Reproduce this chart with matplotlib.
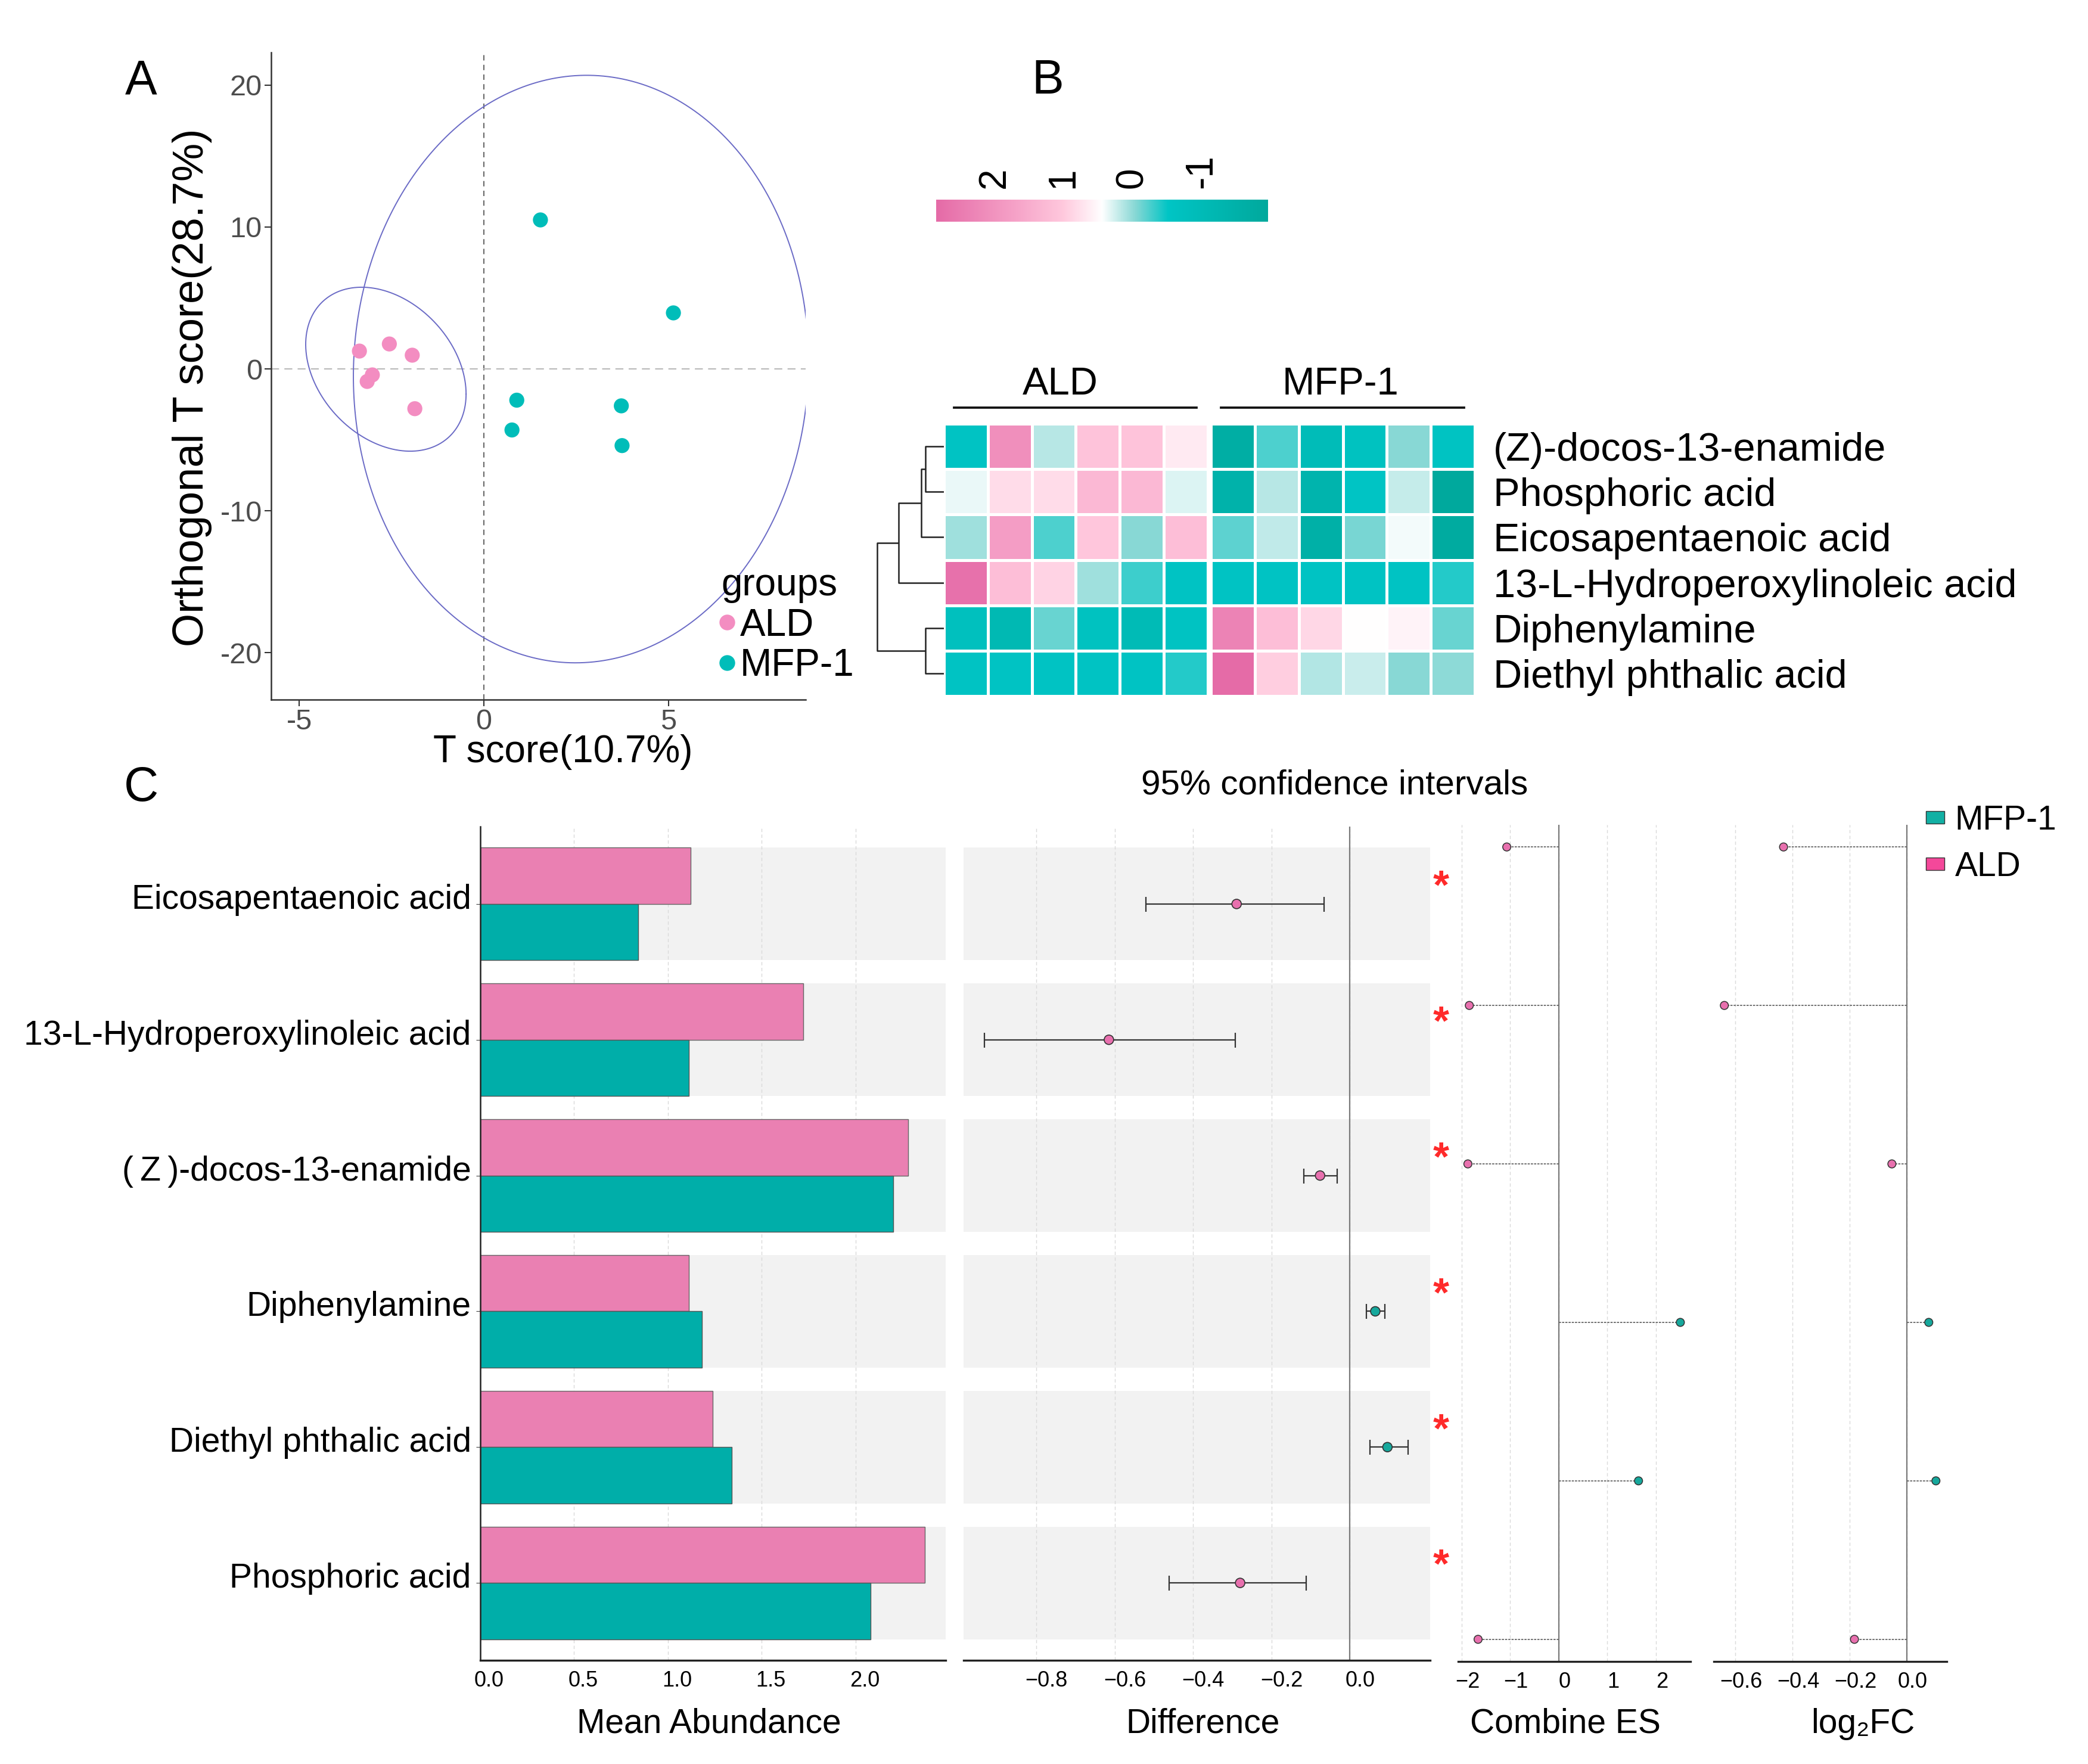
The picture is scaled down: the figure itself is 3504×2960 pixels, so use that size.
import numpy as np
import matplotlib
matplotlib.use("Agg")
import matplotlib.pyplot as plt
from matplotlib.colors import LinearSegmentedColormap, Normalize
from matplotlib.patches import Patch
from matplotlib.lines import Line2D
from matplotlib.transforms import ScaledTranslation

plt.rcParams['font.family'] = ['Liberation Sans', 'DejaVu Sans', 'Noto Sans CJK SC']
plt.rcParams['axes.unicode_minus'] = False

# ---- data ----
# A: OPLS-DA scores
ald_t = [-3.37, -2.56, -1.94, -3.02, -3.16, -1.87]
ald_o = [1.26, 1.76, 0.97, -0.42, -0.88, -2.8]
mfp_t = [1.53, 5.13, 0.89, 0.76, 3.72, 3.74]
mfp_o = [10.5, 3.95, -2.2, -4.3, -2.6, -5.4]
F95 = 5.786  # qf(0.95, 2, 5), used for the 95% ellipse

# B: heatmap (z-scores)
heat_rows = ["(Z)-docos-13-enamide", "Phosphoric acid", "Eicosapentaenoic acid",
             "13-L-Hydroperoxylinoleic acid", "Diphenylamine", "Diethyl phthalic acid"]
heat_ald = [[-0.6, 2.1, 0.15, 1.1, 1.1, 0.65],
            [0.35, 0.8, 0.8, 1.3, 1.3, 0.3],
            [0.05, 1.8, -0.25, 1.05, -0.05, 1.2],
            [2.7, 1.2, 0.9, 0.05, -0.3, -0.6],
            [-0.75, -1.15, -0.15, -0.7, -1.05, -0.65],
            [-0.6, -0.6, -0.6, -0.6, -0.6, -0.4]]
heat_mfp = [[-1.7, -0.25, -1.0, -0.7, -0.05, -0.65],
            [-1.5, 0.15, -1.4, -0.55, 0.2, -1.97],
            [-0.2, 0.18, -1.6, -0.1, 0.38, -1.85],
            [-0.6, -0.6, -0.6, -0.6, -0.6, -0.4],
            [2.35, 1.2, 0.85, 0.45, 0.55, -0.15],
            [2.84, 0.95, 0.13, 0.22, -0.05, -0.03]]
# (left child, right child, height); leaves 0-5, new nodes from 6
dendro_merges = [(0, 1, 0.28), (6, 2, 0.34), (7, 3, 0.68), (4, 5, 0.28), (8, 9, 1.0)]
cbar_ticks = [2, 1, 0, -1]

# C: differential metabolites
metab = ["Eicosapentaenoic acid", "13-L-Hydroperoxylinoleic acid", "(\u2009Z\u2009)-docos-13-enamide",
         "Diphenylamine", "Diethyl phthalic acid", "Phosphoric acid"]
mean_ald = [1.12, 1.72, 2.28, 1.11, 1.24, 2.37]
mean_mfp = [0.84, 1.11, 2.20, 1.18, 1.34, 2.08]
diff = [-0.289, -0.615, -0.076, 0.065, 0.096, -0.28]
ci_lo = [-0.52, -0.933, -0.117, 0.043, 0.052, -0.461]
ci_hi = [-0.065, -0.292, -0.032, 0.09, 0.149, -0.111]
comb_es = [-1.07, -1.84, -1.87, 2.50, 1.64, -1.66]
log2fc = [-0.431, -0.638, -0.052, 0.077, 0.102, -0.183]

PINK = '#EA80B2'
TEAL = '#00AEA9'
PT_PINK = '#E870AE'
PT_TEAL = '#16A89C'

W, H = 3505, 2960
fig = plt.figure(figsize=(W / 100, H / 100), dpi=100)


def add_ax(l, t, r, b):
    return fig.add_axes([l / W, 1 - b / H, (r - l) / W, (b - t) / H])


def ftext(x, y, s, **kw):
    fig.text(x / W, 1 - y / H, s, **kw)


def shift_labels(labels, dx=0, dy=0):
    off = ScaledTranslation(dx / 100, dy / 100, fig.dpi_scale_trans)
    for lab in labels:
        lab.set_transform(lab.get_transform() + off)


def ellipse(ax, x, y, color):
    pts = np.column_stack([x, y])
    c = pts.mean(axis=0)
    L = np.linalg.cholesky(np.cov(pts.T))
    t = np.linspace(0, 2 * np.pi, 300)
    circ = np.column_stack([np.cos(t), np.sin(t)])
    e = np.sqrt(2 * F95) * circ @ L.T
    ax.plot(c[0] + e[:, 0], c[1] + e[:, 1], color=color, lw=1.4, zorder=2)


# ---------------- A ----------------
ax = add_ax(455, 88, 1352, 1174)
ax.axvline(0, ls=(0, (5, 4)), color='#555555', lw=1.3, zorder=1)
ax.axhline(0, ls=(0, (6, 4)), color='#BBBBBB', lw=1.6, zorder=1)
ellipse(ax, ald_t, ald_o, '#6B6BC6')
ellipse(ax, mfp_t, mfp_o, '#6B6BC6')
ax.scatter(ald_t, ald_o, s=330, c='#F38DC1', edgecolors='none', zorder=3)
ax.scatter(mfp_t, mfp_o, s=330, c='#00BDB9', edgecolors='none', zorder=3)
ax.set_xlim(-5.76, 8.71)
ax.set_ylim(-23.3, 22.3)
ax.set_xticks([-5, 0, 5])
ax.set_yticks([-20, -10, 0, 10, 20])
for s in ['top', 'right']:
    ax.spines[s].set_visible(False)
for s in ['left', 'bottom']:
    ax.spines[s].set_color('#333333')
    ax.spines[s].set_linewidth(1.8)
ax.tick_params(labelsize=35, labelcolor='#4D4D4D', color='#333333', length=8, width=1.5, pad=3)
ax.set_facecolor('none')
handles = [Line2D([], [], ls='none', marker='o', ms=19, mfc='#F38DC1', mec='none'),
           Line2D([], [], ls='none', marker='o', ms=19, mfc='#00BDB9', mec='none')]
ax.legend(handles, ['ALD', 'MFP-1'], title='groups', loc='upper left',
          bbox_to_anchor=(1210 / W, 1 - 952 / H), bbox_transform=fig.transFigure,
          frameon=False, fontsize=46, title_fontsize=46, alignment='left',
          handletextpad=0.2, labelspacing=0.12, borderpad=0, borderaxespad=0,
          handlelength=0.3)
ftext(322, 650, 'Orthogonal T score(28.7%)', rotation=90, ha='center', va='center', fontsize=52)
ftext(945, 1262, 'T score(10.7%)', ha='center', va='center', fontsize=46)
ftext(237, 136, 'A', ha='center', va='center', fontsize=58)

# ---------------- B ----------------
ald_arr = np.array(heat_ald)
mfp_arr = np.array(heat_mfp)
vmin = min(ald_arr.min(), mfp_arr.min())
vmax = max(ald_arr.max(), mfp_arr.max())
cmap = LinearSegmentedColormap.from_list('hm', [
    (0.0, '#00A99D'), (0.30, '#00C5C5'), (0.40, '#88D8D5'), (0.5, '#FFFFFF'),
    (0.62, '#FFC8DD'), (0.76, '#F6A3C8'), (1.0, '#E56BA7')])
norm = Normalize(vmin, vmax)

axh = add_ax(1584, 711, 2475, 1168)
ncol = ald_arr.shape[1]
gap = 0.07
yedges = np.arange(len(heat_rows) + 1)
axh.pcolormesh(np.arange(ncol + 1), yedges, ald_arr, cmap=cmap, norm=norm,
               edgecolors='white', linewidth=2.4)
axh.pcolormesh(np.arange(ncol + 1) + ncol + gap, yedges, mfp_arr, cmap=cmap, norm=norm,
               edgecolors='white', linewidth=2.4)
axh.set_xlim(0, 2 * ncol + gap)
axh.set_ylim(len(heat_rows), 0)
for s in axh.spines.values():
    s.set_visible(False)
axh.set_xticks([])
axh.yaxis.tick_right()
axh.set_yticks(np.arange(len(heat_rows)) + 0.5)
axh.set_yticklabels(heat_rows, fontsize=48)
axh.tick_params(axis='y', length=0, pad=22)
for x0, name, dx in [(0, 'ALD', -0.35), (ncol + gap, 'MFP-1', -0.05)]:
    axh.plot([x0 + 0.23, x0 + ncol - 0.25], [-0.36, -0.36], color='#111111', lw=2.7, clip_on=False)
    axh.text(x0 + ncol / 2 + dx, -0.86, name, ha='center', va='center', fontsize=47)

# dendrogram
axd = add_ax(1470, 711, 1584, 1168)
pos = {i: i + 0.5 for i in range(len(heat_rows))}
hgt = {i: 0.0 for i in range(len(heat_rows))}
for k, (a, b, h) in enumerate(dendro_merges):
    node = len(heat_rows) + k
    axd.plot([hgt[a], h, h, hgt[b]], [pos[a], pos[a], pos[b], pos[b]], color='#222222', lw=1.8,
             solid_capstyle='butt')
    pos[node] = (pos[a] + pos[b]) / 2
    hgt[node] = h
axd.set_xlim(1.02, 0)
axd.set_ylim(len(heat_rows), 0)
axd.axis('off')

# colour key
axc = add_ax(1571, 335, 2128, 372)
grad = np.linspace(vmin, vmax, 256)[None, :]
axc.imshow(grad, cmap=cmap, norm=norm, aspect='auto', extent=[vmin, vmax, 0, 1])
axc.set_xlim(vmax, vmin)
axc.set_yticks([])
axc.xaxis.tick_top()
axc.set_xticks(cbar_ticks)
axc.set_xticklabels([str(v) for v in cbar_ticks], rotation=90, fontsize=46)
axc.tick_params(axis='x', length=0, pad=14)
for s in axc.spines.values():
    s.set_visible(False)
ftext(1758, 136, 'B', ha='center', va='center', fontsize=58)

# ---------------- C ----------------
ypos = np.arange(len(metab))
bar_h = 0.415


def style_bottom(a):
    for s in ['top', 'right', 'left']:
        a.spines[s].set_visible(False)
    a.spines['bottom'].set_color('#222222')
    a.spines['bottom'].set_linewidth(2.4)
    a.tick_params(axis='x', labelsize=26, length=0, pad=12)
    a.grid(axis='x', ls=(0, (4, 3)), color='#DADADA', lw=1.0)
    a.set_axisbelow(True)
    a.set_facecolor('none')


# mean abundance
axa = add_ax(806, 1387, 1587, 2786)
xmax_a = 2.48
axa.barh(ypos, xmax_a, height=2 * bar_h, color='#F2F2F2', zorder=0.1)
axa.barh(ypos - bar_h / 2, mean_ald, height=bar_h, color=PINK, edgecolor='#666666', lw=1, zorder=2)
axa.barh(ypos + bar_h / 2, mean_mfp, height=bar_h, color=TEAL, edgecolor='#555555', lw=1, zorder=2)
axa.set_xlim(0, xmax_a)
axa.set_ylim(len(metab) - 0.43, -0.57)
style_bottom(axa)
axa.spines['left'].set_visible(True)
axa.spines['left'].set_color('#222222')
axa.spines['left'].set_linewidth(1.8)
axa.set_xticks([0, 0.5, 1.0, 1.5, 2.0])
axa.set_xticklabels(['0.0', '0.5', '1.0', '1.5', '2.0'])
axa.set_yticks(ypos)
axa.set_yticklabels(metab, fontsize=41)
axa.tick_params(axis='y', length=5, color='#444444', pad=6)
shift_labels(axa.get_yticklabels(), dy=13)
shift_labels(axa.get_xticklabels(), dx=15)

# difference with 95% CI
axf = add_ax(1617, 1387, 2400, 2786)
xl_f = (-0.986, 0.205)
axf.barh(ypos, xl_f[1] - xl_f[0], left=xl_f[0], height=2 * bar_h, color='#F2F2F2', zorder=0.1)
axf.axvline(0, color='#7A7A7A', lw=1.6, zorder=1)
d = np.array(diff)
axf.errorbar(d, ypos, xerr=[d - np.array(ci_lo), np.array(ci_hi) - d], fmt='none',
             ecolor='#333333', elinewidth=1.6, capsize=9, capthick=1.6, zorder=3)
cols = [PT_PINK if v < 0 else PT_TEAL for v in diff]
axf.scatter(d, ypos, s=130, c=cols, edgecolors='#333333', linewidths=1.2, zorder=4)
for y in ypos:
    axf.text(0.232, y - 0.12, '*', color='#FF2A2A', fontsize=50, fontweight='bold',
             ha='center', va='center', clip_on=False)
axf.set_xlim(*xl_f)
axf.set_ylim(len(metab) - 0.43, -0.57)
style_bottom(axf)
axf.set_yticks([])
axf.set_xticks([-0.8, -0.6, -0.4, -0.2, 0.0])
axf.set_xticklabels(['\u22120.8', '\u22120.6', '\u22120.4', '\u22120.2', '0.0'])
shift_labels(axf.get_xticklabels(), dx=17)


def lollipop(a, vals, xlim, ticks, labels):
    a.axvline(0, color='#7A7A7A', lw=1.6, zorder=1)
    a.hlines(ypos, 0, vals, colors='#666666', linestyles=(0, (2, 1)), lw=1.3, zorder=2)
    c = [PT_PINK if v < 0 else PT_TEAL for v in vals]
    a.scatter(vals, ypos, s=95, c=c, edgecolors='#333333', linewidths=1.1, zorder=3)
    a.set_xlim(*xlim)
    a.set_ylim(len(vals) - 1 + 0.14, -0.14)
    style_bottom(a)
    a.set_yticks([])
    a.set_xticks(ticks)
    a.set_xticklabels(labels)
    shift_labels(a.get_xticklabels(), dx=10)


axe = add_ax(2447, 1384, 2837, 2788)
lollipop(axe, comb_es, (-2.07, 2.71), [-2, -1, 0, 1, 2], ['\u22122', '\u22121', '0', '1', '2'])
axl = add_ax(2876, 1384, 3267, 2788)
lollipop(axl, log2fc, (-0.675, 0.14), [-0.6, -0.4, -0.2, 0.0],
         ['\u22120.6', '\u22120.4', '\u22120.2', '0.0'])

ftext(2240, 1318, '95% confidence intervals', ha='center', va='center', fontsize=42)
ftext(1190, 2893, 'Mean Abundance', ha='center', va='center', fontsize=41)
ftext(2019, 2893, 'Difference', ha='center', va='center', fontsize=41)
ftext(2627, 2893, 'Combine ES', ha='center', va='center', fontsize=41)
ftext(3126, 2893, 'log\u2082FC', ha='center', va='center', fontsize=41)
ftext(237, 1323, 'C', ha='center', va='center', fontsize=58)

fig.legend(handles=[Patch(facecolor='#12B0A4', edgecolor='#333333', label='MFP-1'),
                    Patch(facecolor='#F4489A', edgecolor='#333333', label='ALD')],
           loc='upper left', bbox_to_anchor=(3232 / W, 1 - 1350 / H), frameon=False,
           fontsize=41, handlelength=0.55, handleheight=0.2, handletextpad=0.3,
           labelspacing=0.42, borderpad=0, borderaxespad=0)

fig.savefig('out.png', dpi=100, facecolor='white')
